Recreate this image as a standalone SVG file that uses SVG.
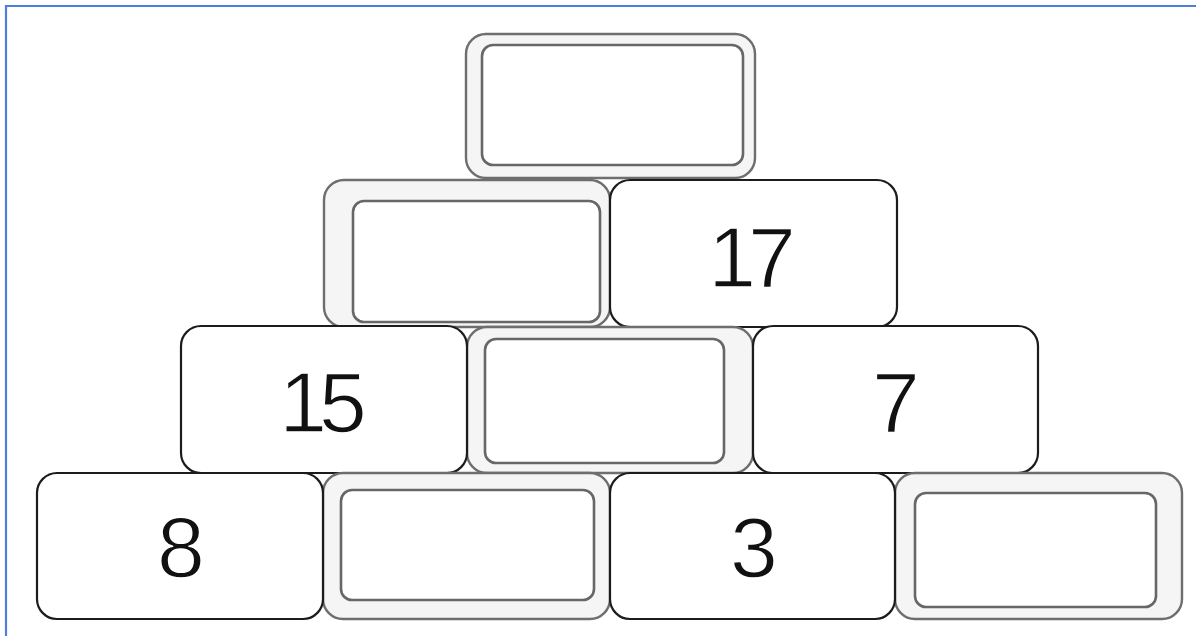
<svg xmlns="http://www.w3.org/2000/svg" width="1196" height="636" viewBox="0 0 1196 636">
<style>
.brick{fill:#ffffff;stroke:#1c1c1c;stroke-width:2.2}
.dbl{fill:#f5f5f5;stroke:#6e6e6e;stroke-width:2.4}
.inner{fill:#ffffff;stroke:#676767;stroke-width:2.6}
.num{font-family:"Liberation Sans",Arial,sans-serif;font-size:86px;fill:#111111;text-anchor:middle;letter-spacing:-8px;stroke:#ffffff;stroke-width:1.4}
</style>
<rect x="0" y="0" width="1196" height="636" fill="#ffffff"/>
<path d="M6,636 V6 H1196" fill="none" stroke="#4f7fdc" stroke-width="2.2"/>

<g id="brick-top">
<rect class="dbl" x="466" y="34" width="289" height="144" rx="20"/>
<rect class="inner" x="482" y="45" width="261" height="120" rx="11"/>
</g>

<g id="brick-r2-1">
<rect class="dbl" x="324" y="180" width="286" height="147" rx="20"/>
<rect class="inner" x="353" y="201" width="247" height="121" rx="11"/>
</g>
<g id="brick-r2-2">
<rect class="brick" x="610" y="180" width="287" height="147" rx="20"/>
<text class="num" x="748" y="287">17</text>
</g>

<g id="brick-r3-2">
<rect class="dbl" x="467" y="327" width="286" height="146" rx="20"/>
<rect class="inner" x="485" y="339" width="239" height="124" rx="11"/>
</g>
<g id="brick-r3-1">
<rect class="brick" x="181" y="326" width="286" height="147" rx="20"/>
<text class="num" x="319" y="432">15</text>
</g>
<g id="brick-r3-3">
<rect class="brick" x="753" y="326" width="285" height="147" rx="20"/>
<text class="num" x="892" y="432">7</text>
</g>

<g id="brick-r4-2">
<rect class="dbl" x="323" y="473" width="287" height="146" rx="20"/>
<rect class="inner" x="341" y="490" width="253" height="110" rx="11"/>
</g>
<g id="brick-r4-4">
<rect class="dbl" x="895" y="473" width="287" height="146" rx="20"/>
<rect class="inner" x="915" y="493" width="241" height="114" rx="11"/>
</g>
<g id="brick-r4-1">
<rect class="brick" x="37" y="473" width="286" height="146" rx="20"/>
<text class="num" x="177" y="577">8</text>
</g>
<g id="brick-r4-3">
<rect class="brick" x="610" y="473" width="285" height="146" rx="20"/>
<text class="num" x="750" y="577">3</text>
</g>
</svg>
